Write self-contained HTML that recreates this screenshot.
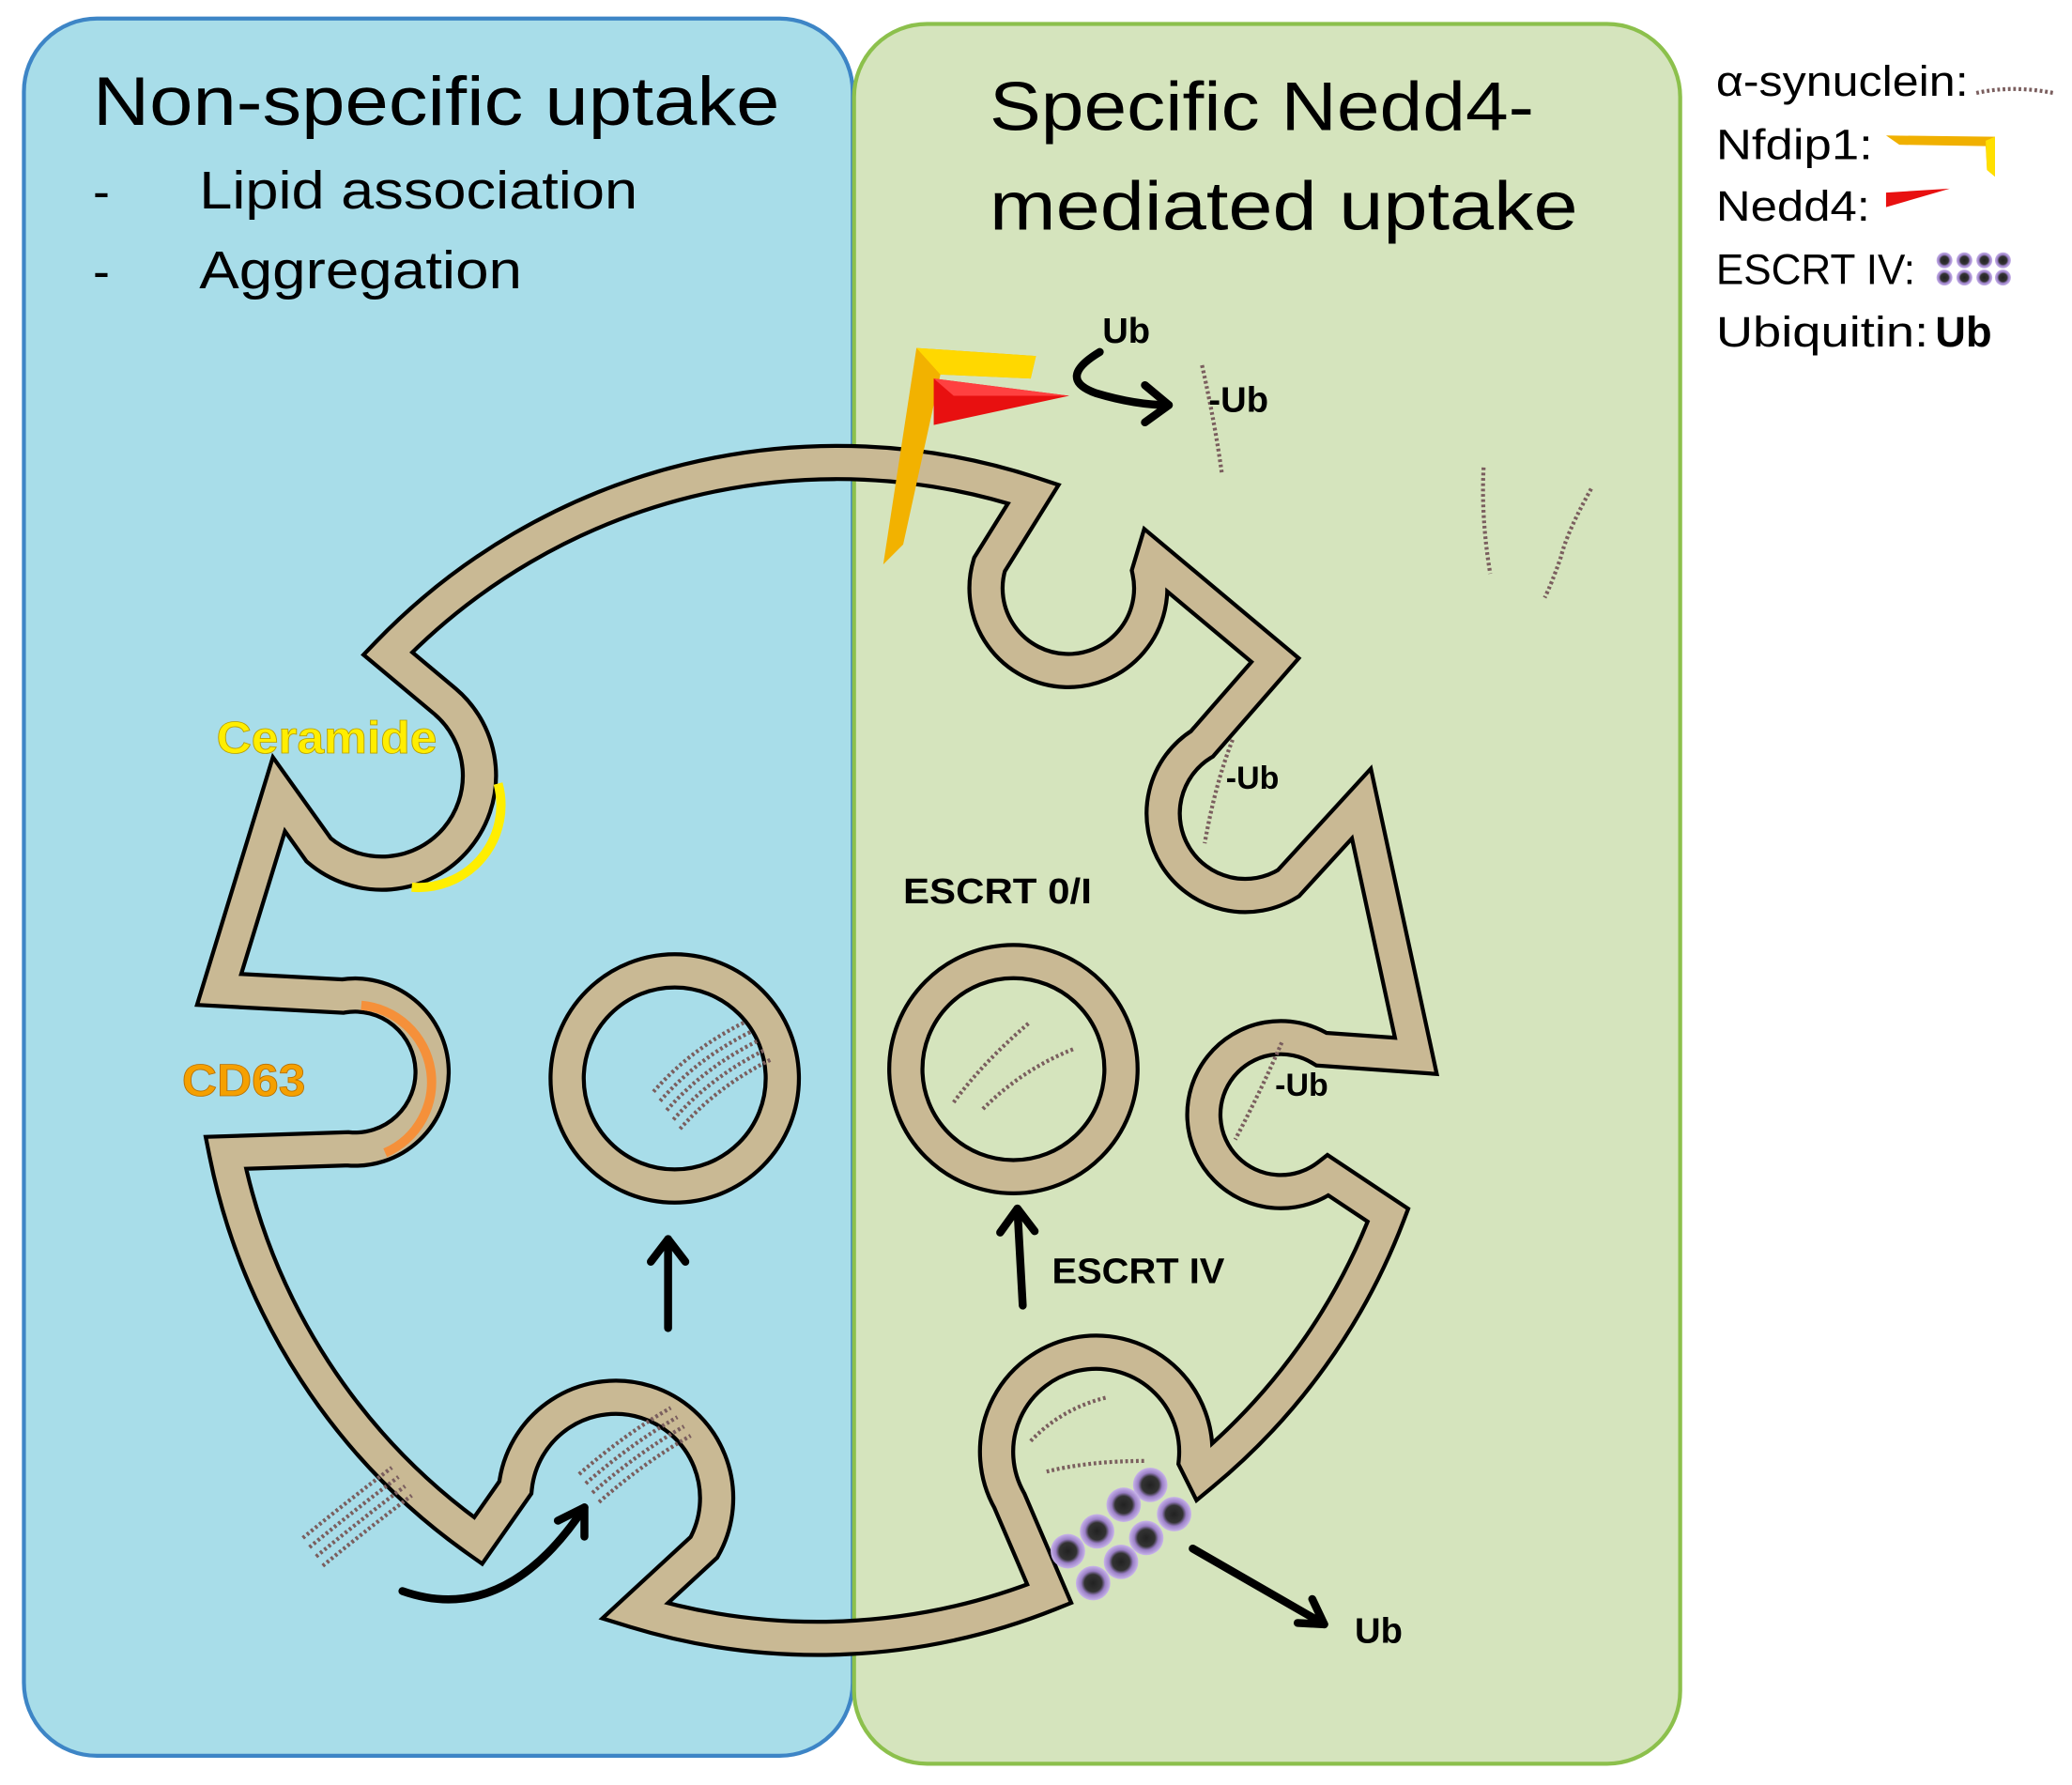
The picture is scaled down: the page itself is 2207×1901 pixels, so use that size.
<!DOCTYPE html>
<html><head><meta charset="utf-8"><style>html,body{margin:0;padding:0;background:#fff}svg{display:block}</style></head>
<body>
<svg width="2207" height="1901" viewBox="0 0 1560 1344" preserveAspectRatio="none" xmlns="http://www.w3.org/2000/svg" font-family="Liberation Sans, sans-serif">
<defs>
<radialGradient id="dot" cx="50%" cy="50%" r="50%"><stop offset="0" stop-color="#222"/><stop offset="0.5" stop-color="#333"/><stop offset="0.7" stop-color="#9a7fc6"/><stop offset="1" stop-color="#c8b4ea"/></radialGradient>
</defs>
<rect width="1560" height="1344" fill="#fff"/>
<rect x="18" y="14" width="624" height="1308" rx="55" fill="#a8dde9" stroke="#3d85c6" stroke-width="3"/>
<rect x="643" y="18" width="622" height="1310" rx="55" fill="#d5e4bd" stroke="#8cc04c" stroke-width="3"/>

<!-- membrane -->
<g fill="none" stroke-linejoin="miter" stroke-miterlimit="10">
<path d="M292 492 A470 470 0 0 1 778 372 L745 425 A62 62 0 1 0 865 430 L868 420 L960 497 L905 560 A60 60 0 1 0 970 665 L1025 605 L1066 795 L995 790 A58 58 0 1 0 1000 885 L1045 915 A470 470 0 0 1 905 1110 L900 1100 A75 75 0 1 0 760 1130 L790 1200 A470 470 0 0 1 478 1213 L530 1165 A76 76 0 1 0 388 1120 L360 1160 A470 470 0 0 1 170 868 L262 865 A58 58 0 1 0 258 750 L165 745 L210 598 L240 640 A66 66 0 1 0 335 528 Z" stroke="#000" stroke-width="28"/>
<path d="M292 492 A470 470 0 0 1 778 372 L745 425 A62 62 0 1 0 865 430 L868 420 L960 497 L905 560 A60 60 0 1 0 970 665 L1025 605 L1066 795 L995 790 A58 58 0 1 0 1000 885 L1045 915 A470 470 0 0 1 905 1110 L900 1100 A75 75 0 1 0 760 1130 L790 1200 A470 470 0 0 1 478 1213 L530 1165 A76 76 0 1 0 388 1120 L360 1160 A470 470 0 0 1 170 868 L262 865 A58 58 0 1 0 258 750 L165 745 L210 598 L240 640 A66 66 0 1 0 335 528 Z" stroke="#c9b994" stroke-width="22"/>
<circle cx="508" cy="812" r="81" stroke="#000" stroke-width="28"/>
<circle cx="508" cy="812" r="81" stroke="#c9b994" stroke-width="22"/>
<circle cx="763" cy="805" r="81" stroke="#000" stroke-width="28"/>
<circle cx="763" cy="805" r="81" stroke="#c9b994" stroke-width="22"/>
</g>

<!-- ceramide / CD63 arcs -->
<path d="M375 590 A62 62 0 0 1 310 668" fill="none" stroke="#ffee00" stroke-width="7"/>
<path d="M272 757 A58 58 0 0 1 290 868" fill="none" stroke="#f5903a" stroke-width="7"/>

<!-- synuclein strands -->
<g fill="none" stroke="#7a5e5e" stroke-width="3" stroke-dasharray="2 2">
<path d="M905 275 Q915 320 920 357"/>
<path d="M1117 352 Q1115 390 1122 432"/>
<path d="M1198 368 Q1180 400 1175 420 Q1168 440 1163 450"/>
<path d="M928 557 Q915 590 907 635"/>
<path d="M965 785 Q950 820 930 858"/>
<path d="M718 830 Q740 800 775 770"/>
<path d="M740 835 Q770 805 808 790"/>
<path d="M776 1085 Q800 1060 834 1052"/>
<path d="M788 1108 Q820 1100 862 1100"/>
<path d="M492 822 Q520 790 560 770"/><path d="M497 829 Q525 797 565 777"/><path d="M502 836 Q530 804 570 784"/><path d="M507 843 Q535 811 575 791"/><path d="M512 850 Q540 818 580 798"/>
<path d="M436 1110 Q470 1080 505 1060"/><path d="M441 1117 Q475 1087 510 1067"/><path d="M446 1124 Q480 1094 515 1074"/><path d="M451 1131 Q485 1101 520 1081"/>
<path d="M228 1158 Q262 1130 295 1105"/><path d="M233 1165 Q267 1137 300 1112"/><path d="M238 1172 Q272 1144 305 1119"/><path d="M243 1179 Q277 1151 310 1126"/>
<path d="M1488 70 Q1515 64 1546 70"/>
</g>

<!-- arrows -->
<g fill="none" stroke="#000" stroke-width="6" stroke-linecap="round" stroke-linejoin="round">
<path d="M503 1000 L503 933"/><path d="M490 950 L503 933 L516 950"/>
<path d="M770 983 L766 910"/><path d="M753 928 L766 910 L779 927"/>
<path d="M303 1198 Q380 1225 440 1135"/><path d="M420 1145 L440 1135 L440 1157"/>
<path d="M828 265 Q795 285 825 296 Q855 305 880 305"/><path d="M862 290 L880 305 L862 318"/>
<path d="M898 1166 L997 1223"/><path d="M977 1222 L997 1223 L988 1204"/>
</g>

<!-- Nfdip1 / Nedd4 -->
<polygon points="665,425 690,262 780,268 776,285 708,282 680,410" fill="#f2b200"/>
<polygon points="690,262 780,268 776,285 708,282" fill="#ffd800"/>
<polygon points="703,285 805,298 703,320" fill="#e81010"/>
<polygon points="703,285 805,298 718,298" fill="#ff4040"/>
<!-- legend icons -->
<polygon points="1420,102 1502,103 1502,133 1496,128 1495,110 1430,109" fill="#f0b000"/>
<polygon points="1495,106 1502,103 1502,133 1496,128" fill="#ffe000"/>
<polygon points="1420,145 1468,142 1420,156" fill="#e81010"/>

<!-- ESCRT dots -->
<g>
<circle cx="866" cy="1118" r="13" fill="url(#dot)"/><circle cx="884" cy="1140" r="13" fill="url(#dot)"/>
<circle cx="846" cy="1133" r="13" fill="url(#dot)"/><circle cx="863" cy="1158" r="13" fill="url(#dot)"/>
<circle cx="826" cy="1153" r="13" fill="url(#dot)"/><circle cx="844" cy="1176" r="13" fill="url(#dot)"/>
<circle cx="804" cy="1168" r="13" fill="url(#dot)"/><circle cx="823" cy="1192" r="13" fill="url(#dot)"/>
</g>
<g>
<circle cx="1464" cy="196" r="6" fill="url(#dot)"/><circle cx="1479" cy="196" r="6" fill="url(#dot)"/><circle cx="1494" cy="196" r="6" fill="url(#dot)"/><circle cx="1508" cy="196" r="6" fill="url(#dot)"/>
<circle cx="1464" cy="209" r="6" fill="url(#dot)"/><circle cx="1479" cy="209" r="6" fill="url(#dot)"/><circle cx="1494" cy="209" r="6" fill="url(#dot)"/><circle cx="1508" cy="209" r="6" fill="url(#dot)"/>
</g>

<!-- text -->
<g fill="#000">
<text x="70" y="94" font-size="52" textLength="517" lengthAdjust="spacingAndGlyphs">Non-specific uptake</text>
<text x="70" y="157" font-size="38">-</text>
<text x="150" y="157" font-size="40" textLength="330" lengthAdjust="spacingAndGlyphs">Lipid association</text>
<text x="70" y="217" font-size="38">-</text>
<text x="150" y="217" font-size="40" textLength="243" lengthAdjust="spacingAndGlyphs">Aggregation</text>
<text x="745" y="98" font-size="52" textLength="410" lengthAdjust="spacingAndGlyphs">Specific Nedd4-</text>
<text x="745" y="173" font-size="52" textLength="443" lengthAdjust="spacingAndGlyphs">mediated uptake</text>
<text x="1292" y="72" font-size="32" textLength="190" lengthAdjust="spacingAndGlyphs">α-synuclein:</text>
<text x="1292" y="120" font-size="32" textLength="118" lengthAdjust="spacingAndGlyphs">Nfdip1:</text>
<text x="1292" y="166" font-size="32" textLength="116" lengthAdjust="spacingAndGlyphs">Nedd4:</text>
<text x="1292" y="214" font-size="32" textLength="150" lengthAdjust="spacingAndGlyphs">ESCRT IV:</text>
<text x="1292" y="261" font-size="32" textLength="160" lengthAdjust="spacingAndGlyphs">Ubiquitin:</text>
<text x="1457" y="261" font-size="32" font-weight="bold">Ub</text>
<g font-weight="bold" font-size="27">
<text x="830" y="258">Ub</text>
<text x="910" y="310">-Ub</text>
<text x="923" y="594" font-size="24">-Ub</text>
<text x="960" y="825" font-size="24">-Ub</text>
<text x="680" y="680" textLength="142" lengthAdjust="spacingAndGlyphs">ESCRT 0/I</text>
<text x="792" y="966" textLength="130" lengthAdjust="spacingAndGlyphs">ESCRT IV</text>
<text x="1020" y="1237">Ub</text>
</g>
</g>
<text x="163" y="567" font-size="34" font-weight="bold" fill="#ffee00" stroke="#b8a000" stroke-width="0.6" textLength="166" lengthAdjust="spacingAndGlyphs">Ceramide</text>
<text x="137" y="825" font-size="34" font-weight="bold" fill="#f5a000" stroke="#b87000" stroke-width="0.6" textLength="93" lengthAdjust="spacingAndGlyphs">CD63</text>
</svg>
</body></html>
